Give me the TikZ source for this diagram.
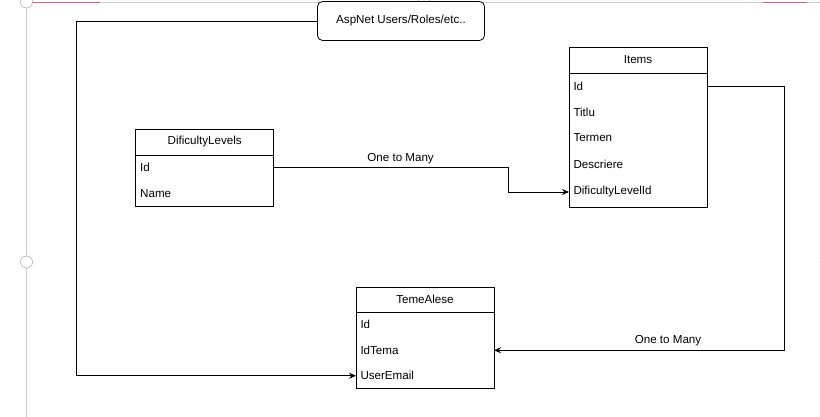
\documentclass[tikz,border=0pt]{standalone}
\usepackage{fontspec}
\setmainfont{Liberation Sans}
\usepackage{tikz}
\usetikzlibrary{positioning, arrows.meta, calc}

\definecolor{framegray}{RGB}{205,205,205}
\definecolor{markpink}{RGB}{205,95,135}

\begin{document}
\begin{tikzpicture}[x=1pt, y=-1pt,
    every node/.style={font=\fontsize{11.6}{14}\selectfont, outer sep=0pt},
    thead/.style={draw, minimum width=138pt, minimum height=26pt, inner sep=0pt},
    trow/.style={minimum height=25.5pt, text width=129pt, inner xsep=4.5pt, inner ysep=0pt, align=left},
    >={Stealth[length=7pt, width=6pt]}, line width=0.8pt]
    \fill[white] (0,0) rectangle (820,417);
    \useasboundingbox (0,0) rectangle (820,417);

    % page frame and handles
    \draw[framegray, line width=0.6pt] (26.5,0) -- (26.5,417);
    \draw[framegray, line width=0.6pt] (26.5,2) -- (820,2);
    \draw[markpink, line width=1pt] (33,2.5) -- (100,2.5);
    \draw[markpink, line width=1pt] (763,2.5) -- (807,2.5);
    \draw[gray!70, fill=white, line width=0.5pt] (26.5,2) circle (6pt);
    \draw[gray!70, fill=white, line width=0.5pt] (424,2) circle (6pt);
    \draw[gray!70, fill=white, line width=0.5pt] (826,2) circle (6pt);
    \draw[gray!70, fill=white, line width=0.5pt] (26.5,262) circle (6pt);
    \draw[gray!70, fill=white, line width=0.5pt] (826,262) circle (6pt);

    \node[draw, fill=white, rounded corners=5pt, minimum width=167pt, minimum height=39pt] (asp) at (401,21) {AspNet Users/Roles/etc..};

    % DificultyLevels
    \node[thead] (dl) at (204.7,142) {DificultyLevels};
    \node[trow] (dlid) [below=0pt of dl] {Id};
    \node[trow] (dlname) [below=0pt of dlid] {Name};
    \draw (dl.south west) rectangle (dlname.south east);

    % Items
    \node[thead] (it) at (638,60) {Items};
    \node[trow, minimum height=26pt] (itid) [below=0pt of it] {Id};
    \node[trow, minimum height=26pt] (ittitlu) [below=0pt of itid] {Titlu};
    \node[trow, minimum height=26pt] (ittermen) [below=0pt of ittitlu] {Termen};
    \node[trow, minimum height=26pt] (itdescr) [below=0pt of ittermen] {Descriere};
    \node[trow, minimum height=30pt] (itdli) [below=0pt of itdescr] {DificultyLevelId};
    \draw (it.south west) rectangle (itdli.south east);

    % TemeAlese
    \node[thead, minimum height=25pt] (te) at (425,299.5) {TemeAlese};
    \node[trow] (teid) [below=0pt of te] {Id};
    \node[trow] (teidtema) [below=0pt of teid] {IdTema};
    \node[trow] (teemail) [below=0pt of teidtema] {UserEmail};
    \draw (te.south west) rectangle (teemail.south east);

    \draw[->] (dlid.east) -- node[above=1pt, pos=0.54] {One to Many} ++(235,0) |- (itdli.west);
    \draw[->] (itid.east) -- ++(77,0) |- node[above=1pt, pos=0.7] {One to Many} (teidtema.east);
    \draw[->] (asp.west) -- ++(-241,0) |- (teemail.west);
\end{tikzpicture}
\end{document}
